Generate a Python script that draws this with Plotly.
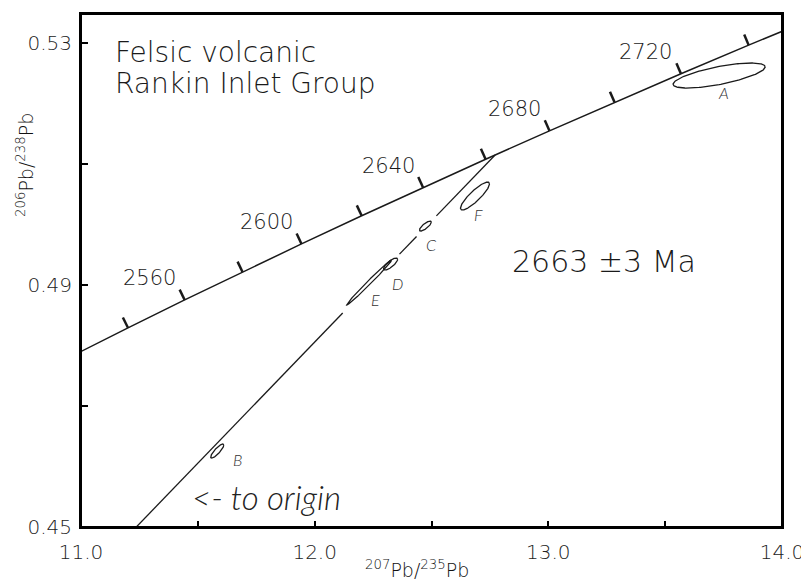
import numpy as np
import plotly.graph_objects as go

# ---------------- data ----------------
LAMBDA_238 = 1.55125e-10   # per year
LAMBDA_235 = 9.8485e-10    # per year

concordia_ages = [2500, 2520, 2540, 2560, 2580, 2600, 2620, 2640, 2660, 2680,
                  2700, 2720, 2740, 2760, 2780]          # Ma, curve vertices
tick_ages = [2540, 2560, 2580, 2600, 2620, 2640, 2660, 2680, 2700, 2720, 2740]
label_ages = [2560, 2600, 2640, 2680, 2720]
label_texts = ["2560", "2600", "2640", "2680", "2720"]

upper_intercept_age = 2663   # Ma, discordia to origin

# drawn pieces of the discordia (207Pb/235U start / end)
discordia_start = [11.0, 12.363, 12.521]
discordia_end = [12.120, 12.436, None]   # None = up to the concordia

# error ellipses
ell_names = ["A", "B", "C", "D", "E", "F"]
ell_x = [13.731, 11.583, 12.474, 12.325, 12.233, 12.686]
ell_y = [0.52463, 0.46256, 0.49975, 0.49347, 0.49041, 0.50471]
ell_sx = [0.197, 0.028, 0.0256, 0.030, 0.0962, 0.062]
ell_sy = [0.00207, 0.00116, 0.00083, 0.00099, 0.00372, 0.00231]
ell_rho = [0.69, 0.85, 0.79, 0.78, 0.993, 0.87]

x_tickvals = [11.0, 12.0, 13.0, 14.0]
x_ticktext = ["11.0", "12.0", "13.0", "14.0"]
y_tickvals = [0.45, 0.49, 0.53]
y_ticktext = ["0.45", "0.49", "0.53"]

# ---------------- layout geometry ----------------
W, H = 801, 582
ML, MR, MT, MB = 81, 19, 14, 55
XR = [11.0, 14.0]
YR = [0.45, 0.5348]
pw, ph = W - ML - MR, H - MT - MB
sx_px = pw / (XR[1] - XR[0])
sy_px = ph / (YR[1] - YR[0])

FONT = "DejaVu Sans"
IFONT = "Lato"
INK = "#1a1a1a"
LIGHT = 300


def conc(age_ma):
    t = np.asarray(age_ma, dtype=float) * 1e6
    return np.exp(LAMBDA_235 * t) - 1.0, np.exp(LAMBDA_238 * t) - 1.0


fig = go.Figure()

# concordia curve
cx, cy = conc(concordia_ages)
fig.add_trace(go.Scatter(x=cx, y=cy, mode="lines",
                         line=dict(color=INK, width=1.5), hoverinfo="skip"))

# concordia age ticks (perpendicular, toward upper-left)
TL = 11.5
tx, ty = [], []
for a in tick_ages:
    px, py = conc(a)
    t = a * 1e6
    dx = LAMBDA_235 * np.exp(LAMBDA_235 * t) * sx_px
    dy = LAMBDA_238 * np.exp(LAMBDA_238 * t) * sy_px
    n = np.hypot(dx, dy)
    nx, ny = -dy / n, dx / n
    tx += [float(px), float(px + nx * TL / sx_px), None]
    ty += [float(py), float(py + ny * TL / sy_px), None]
fig.add_trace(go.Scatter(x=tx, y=ty, mode="lines",
                         line=dict(color=INK, width=2.5), hoverinfo="skip"))

# discordia
ux, uy = conc(upper_intercept_age)
slope = float(uy / ux)
dxs, dys = [], []
for s, e in zip(discordia_start, discordia_end):
    e = float(ux) if e is None else e
    dxs += [s, e, None]
    dys += [s * slope, e * slope, None]
fig.add_trace(go.Scatter(x=dxs, y=dys, mode="lines",
                         line=dict(color=INK, width=1.3), hoverinfo="skip"))

# ellipses
th = np.linspace(0, 2 * np.pi, 181)
for x0, y0, sx, sy, r in zip(ell_x, ell_y, ell_sx, ell_sy, ell_rho):
    ex = x0 + sx * np.cos(th)
    ey = y0 + sy * (r * np.cos(th) + np.sqrt(1 - r * r) * np.sin(th))
    fig.add_trace(go.Scatter(x=ex, y=ey, mode="lines",
                             line=dict(color=INK, width=1.3), hoverinfo="skip"))

annotations = []
# ellipse labels
label_shift = {"A": (4, -16.5), "B": (20, -8), "C": (6, -18),
               "D": (7, -19), "E": (6, -16.5), "F": (3.5, -18)}
for nm, x0, y0 in zip(ell_names, ell_x, ell_y):
    xs, ys = label_shift[nm]
    annotations.append(dict(x=x0, y=y0, xref="x", yref="y", text=nm, showarrow=False,
                            xanchor="center", yanchor="middle",
                            xshift=xs, yshift=ys,
                            font=dict(family=IFONT, size=16, color="#333",
                                      style="italic", weight=LIGHT)))

# concordia age labels
for a, txt in zip(label_ages, label_texts):
    px, py = conc(a)
    annotations.append(dict(x=float(px), y=float(py), xref="x", yref="y", text=txt,
                            showarrow=False, xanchor="center", yanchor="middle",
                            xshift=-35, yshift=22,
                            font=dict(family=FONT, size=21, color=INK, weight=LIGHT)))


def paper_x(p):
    return (p - ML) / pw


def paper_y(p):
    return (H - MB - p) / ph


annotations += [
    dict(x=paper_x(113), y=paper_y(52), xref="paper", yref="paper",
         xanchor="left", yanchor="middle",
         text="Felsic volcanic", showarrow=False,
         font=dict(family=FONT, size=28, color=INK, weight=LIGHT)),
    dict(x=paper_x(113), y=paper_y(83), xref="paper", yref="paper",
         xanchor="left", yanchor="middle",
         text="Rankin Inlet Group", showarrow=False,
         font=dict(family=FONT, size=28, color=INK, weight=LIGHT)),
    dict(x=paper_x(604), y=paper_y(261), xref="paper", yref="paper",
         xanchor="center", yanchor="middle",
         text="2663 \u00b13 Ma", showarrow=False,
         font=dict(family=FONT, size=30, color=INK, weight=LIGHT)),
    dict(x=paper_x(266), y=paper_y(497), xref="paper", yref="paper",
         xanchor="center", yanchor="middle",
         text="<- to origin", showarrow=False,
         font=dict(family=IFONT, size=33, color="#222", style="italic", weight=LIGHT)),
    dict(x=paper_x(25), y=paper_y(165), xref="paper", yref="paper", textangle=-90,
         xanchor="center", yanchor="middle",
         text="<sup>206</sup>Pb/<sup>238</sup>Pb", showarrow=False,
         font=dict(family=FONT, size=19, color="#111", weight=LIGHT)),
    dict(x=paper_x(417), y=paper_y(569), xref="paper", yref="paper",
         xanchor="center", yanchor="middle",
         text="<sup>207</sup>Pb/<sup>235</sup>Pb", showarrow=False,
         font=dict(family=FONT, size=19, color="#111", weight=LIGHT)),
]

axis_common = dict(showline=True, linecolor="black", linewidth=2, mirror=True,
                   ticks="inside", tickcolor="black", tickwidth=2,
                   showgrid=False, zeroline=False, automargin=False,
                   ticklabeloverflow="allow",
                   tickfont=dict(family=FONT, size=20, color="#222", weight=LIGHT))

fig.update_layout(
    width=W, height=H, autosize=False,
    margin=dict(l=ML, r=MR, t=MT, b=MB, autoexpand=False),
    paper_bgcolor="white", plot_bgcolor="white",
    showlegend=False,
    xaxis=dict(range=XR, tickvals=x_tickvals, ticktext=x_ticktext, ticklen=6,
               ticklabelstandoff=6,
               minor=dict(dtick=0.5, tick0=11.0, ticks="inside", ticklen=6,
                          tickwidth=2, tickcolor="black", showgrid=False),
               **axis_common),
    yaxis=dict(range=YR, tickvals=y_tickvals, ticktext=y_ticktext, ticklen=7,
               ticklabelstandoff=3,
               minor=dict(dtick=0.02, tick0=0.45, ticks="inside", ticklen=7,
                          tickwidth=2, tickcolor="black", showgrid=False),
               **axis_common),
    shapes=[dict(type="rect", xref="paper", yref="paper", x0=0, x1=1, y0=0, y1=1,
                 line=dict(color="black", width=2), layer="above")],
    annotations=annotations,
)

fig.write_html("out.html")
